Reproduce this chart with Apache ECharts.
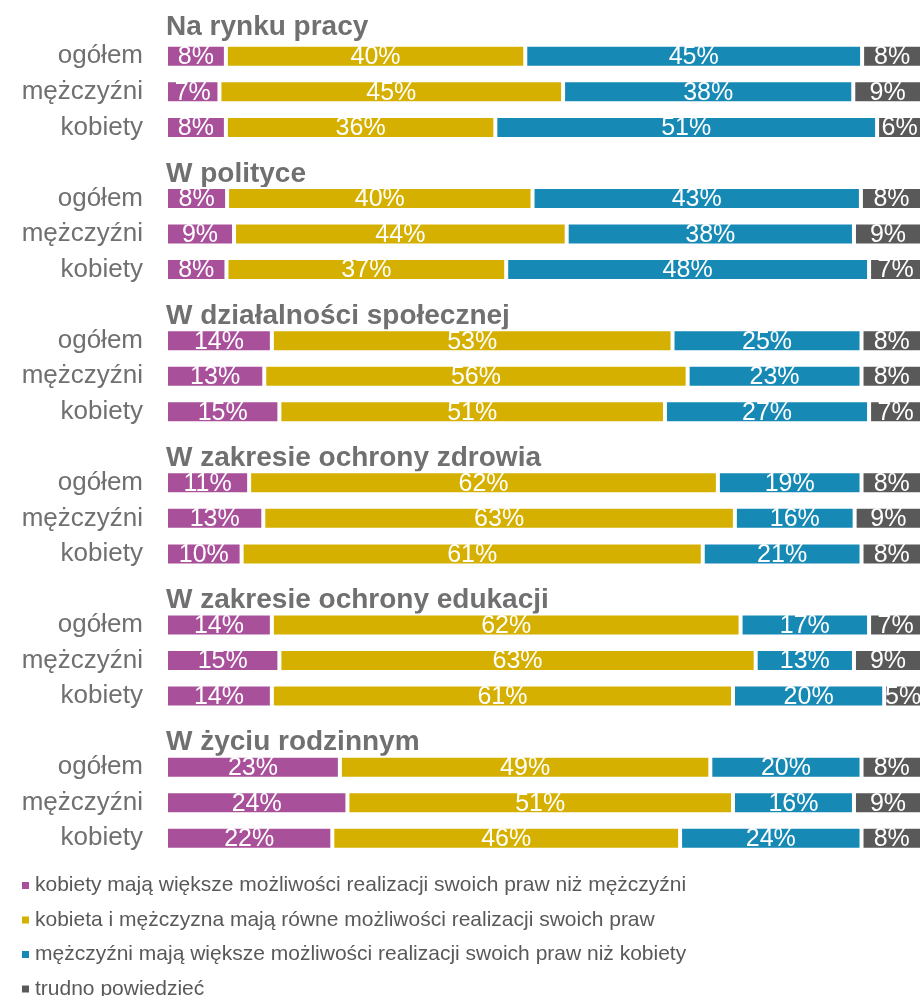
<!DOCTYPE html>
<html>
<head>
<meta charset="utf-8">
<title>Możliwości realizacji praw</title>
<script src="https://cdn.jsdelivr.net/npm/echarts@6/dist/echarts.min.js"></script>
<style>
    html, body { margin: 0; padding: 0; background: #fff; }
    #chart { width: 923px; height: 996px; }
</style>
</head>
<body>
<div id="chart"></div>
<script>
// sekcje i grupy respondentów
const sections = ['Na rynku pracy', 'W polityce', 'W działalności społecznej',
    'W zakresie ochrony zdrowia', 'W zakresie ochrony edukacji', 'W życiu rodzinnym'];
const groups = ['ogółem', 'mężczyźni', 'kobiety'];

const seriesNames = [
    'kobiety mają większe możliwości realizacji swoich praw niż mężczyźni',
    'kobieta i mężczyzna mają równe możliwości realizacji swoich praw',
    'mężczyźni mają większe możliwości realizacji swoich praw niż kobiety',
    'trudno powiedzieć'
];

// wartości w %, kolejno po 3 wiersze na sekcję
const kobietyWiecej   = [8, 7, 8,    8, 9, 8,    14, 13, 15, 11, 13, 10, 14, 15, 14, 23, 24, 22];
const rowne           = [40, 45, 36, 40, 44, 37, 53, 56, 51, 62, 63, 61, 62, 63, 61, 49, 51, 46];
const mezczyzniWiecej = [45, 38, 51, 43, 38, 48, 25, 23, 27, 19, 16, 21, 17, 13, 20, 20, 16, 24];
const trudno          = [8, 9, 6,    8, 9, 7,    8, 8, 7,    8, 9, 8,    7, 9, 5,    8, 9, 8];

const colors = ['#A8509A', '#D5B000', '#1689B5', '#595959'];
const values = [kobietyWiecej, rowne, mezczyzniWiecej, trudno];

// sloty osi: nagłówek sekcji + 3 wiersze
let slots = [];
let slotRow = [];   // indeks wiersza danych albo -1 dla nagłówka
sections.forEach((s, si) => {
    slots.push('h' + si);
    slotRow.push(-1);
    groups.forEach((g, gi) => {
        slots.push('r' + (si * 3 + gi));
        slotRow.push(si * 3 + gi);
    });
});

function rowSum(i) {
    return values.reduce((acc, arr) => acc + arr[i], 0);
}

let series = values.map((arr, k) => ({
    name: seriesNames[k],
    type: 'bar',
    stack: 'total',
    yAxisIndex: 0,
    barWidth: 23,
    itemStyle: { color: colors[k], borderColor: '#fff', borderWidth: 2 },
    label: {
        show: true,
        position: 'inside',
        color: '#fff',
        fontSize: 25,
        fontFamily: 'Liberation Sans, Arial',
        offset: [0, 1],
        formatter: p => p.data.label
    },
    data: slotRow.map(r => r < 0 ? null : { value: arr[r] / rowSum(r) * 100, label: arr[r] + '%' })
}));

let chart = echarts.init(document.getElementById('chart'));
chart.setOption({
    animation: false,
    textStyle: { fontFamily: 'Liberation Sans, Arial' },
    grid: { left: 166, right: 1, top: 3, height: 853 },
    legend: {
        orient: 'vertical',
        left: 20,
        top: 875,
        height: 140,
        padding: 0,
        icon: 'rect',
        itemWidth: 9,
        itemHeight: 9,
        itemGap: 13.5,
        data: seriesNames,
        textStyle: { fontSize: 21, lineHeight: 21, color: '#595959' }
    },
    xAxis: {
        type: 'value',
        min: 0,
        max: 100,
        show: false
    },
    yAxis: [
        {
            type: 'category',
            inverse: true,
            data: slots,
            axisLine: { show: false },
            axisTick: { show: false },
            axisLabel: {
                interval: 0,
                margin: 23,
                fontSize: 26,
                color: '#707070',
                formatter: (v, i) => slotRow[i] < 0 ? '' : groups[slotRow[i] % 3]
            }
        },
        {
            type: 'category',
            inverse: true,
            position: 'left',
            data: slots,
            axisLine: { show: false },
            axisTick: { show: false },
            axisLabel: {
                inside: true,
                interval: 0,
                margin: 0,
                formatter: (v, i) => {
                    if (slotRow[i] >= 0) return '';
                    let si = slots[i].slice(1) * 1;
                    return (si === 0 ? '{h0|' : '{h|') + sections[si] + '}';
                },
                rich: {
                    h0: { fontSize: 28, fontWeight: 'bold', color: '#707070', padding: [14, 0, 0, 0] },
                    h: { fontSize: 28, fontWeight: 'bold', color: '#707070', padding: [22, 0, 0, 0] }
                }
            }
        }
    ],
    series: series
});
</script>
</body>
</html>
